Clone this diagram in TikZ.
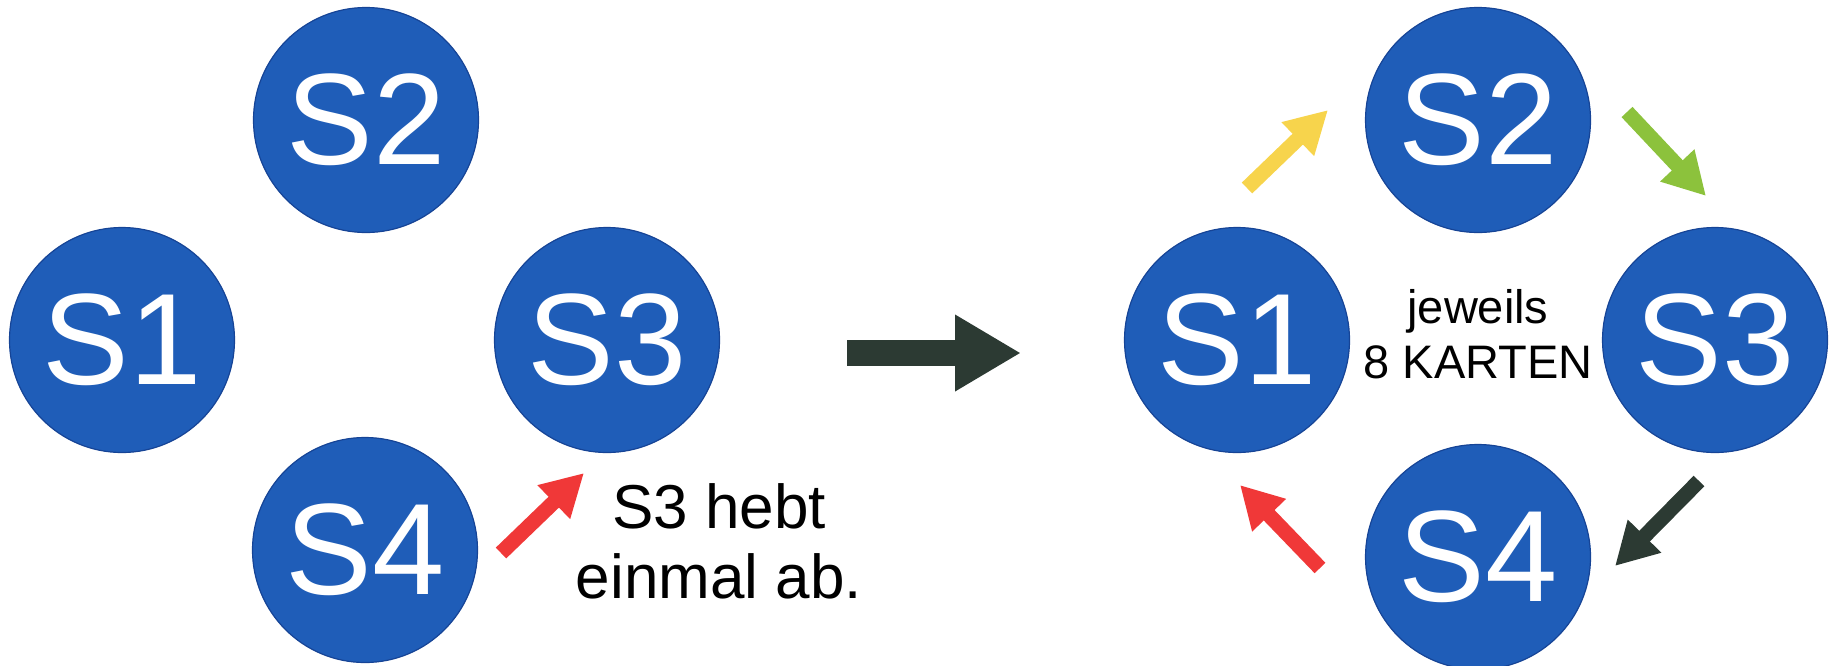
\documentclass[tikz,border=0pt]{standalone}
\usepackage{fontspec}
\setmainfont{Liberation Sans}
\usepackage{tikz}
\usetikzlibrary{arrows.meta}
\usetikzlibrary{positioning}

\definecolor{spielerblau}{RGB}{31,93,184}
\definecolor{spielerrand}{RGB}{22,68,150}
\definecolor{pfeilrot}{RGB}{240,56,56}
\definecolor{pfeilgelb}{RGB}{247,212,76}
\definecolor{pfeilgruen}{RGB}{140,194,60}
\definecolor{pfeildunkel}{RGB}{44,58,51}

\begin{document}
\begin{tikzpicture}[x=1pt,y=-1pt,
  spieler/.style={circle,draw=spielerrand,fill=spielerblau,line width=1.2pt,minimum size=225pt,inner sep=0pt,text=white,font=\fontsize{130}{130}\selectfont},
  pfeil/.style={line width=15pt,-{Triangle[length=42pt,width=44pt]}},
  grosspfeil/.style={line width=26pt,-{Triangle[length=66pt,width=72pt]}}]
\useasboundingbox (0,0) rectangle (1830,665);

% vorher
\node [spieler] (a1) at (122,340) {S1};
\node [spieler] (a2) at (366,120) {S2};
\node [spieler] (a3) at (607,340) {S3};
\node [spieler] (a4) at (365,550) {S4};
\node [align=center,font=\fontsize{62}{70}\selectfont] (hebt) at (719,541) {S3 hebt\\einmal ab.};
\coordinate (r1) at (501,553);
\coordinate (r2) at (584,473);
\draw [pfeil,pfeilrot] (r1) -- (r2);

% Uebergang
\coordinate (g1) at (847,353);
\coordinate (g2) at (1021,353);
\draw [grosspfeil,pfeildunkel] (g1) -- (g2);

% nachher
\node [spieler] (b1) at (1237,340) {S1};
\node [spieler] (b2) at (1478,120) {S2};
\node [spieler] (b3) at (1715,340) {S3};
\node [spieler] (b4) at (1478,557) {S4};
\node [align=center,font=\fontsize{47}{55}\selectfont] (karten) at (1478,334) {jeweils\\8 KARTEN};

\coordinate (y1) at (1247,188);
\coordinate (y2) at (1328,110);
\coordinate (n1) at (1627,112);
\coordinate (n2) at (1706,196);
\coordinate (d1) at (1699,481);
\coordinate (d2) at (1615,566);
\coordinate (t1) at (1320,568);
\coordinate (t2) at (1240,485);
\draw [pfeil,pfeilgelb] (y1) -- (y2);
\draw [pfeil,pfeilgruen] (n1) -- (n2);
\draw [pfeil,pfeildunkel] (d1) -- (d2);
\draw [pfeil,pfeilrot] (t1) -- (t2);
\end{tikzpicture}
\end{document}
